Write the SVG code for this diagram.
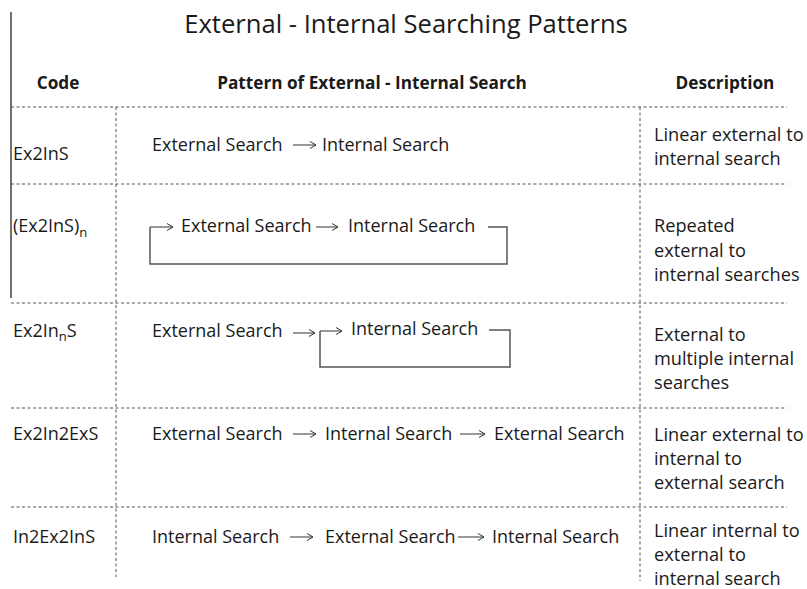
<svg xmlns="http://www.w3.org/2000/svg" width="807" height="589" viewBox="0 0 807 589">
<defs>
<style>
text{font-family:"Open Sans",Lato,"Liberation Sans",sans-serif;fill:#1a1a1a}
.t{font-size:25.6px}
.h{font-size:17.2px;font-weight:bold}
.b{font-size:18px}
.d{font-size:18.2px}
.dash{stroke:#555;stroke-width:1;stroke-dasharray:3 2.5;fill:none}
.solid{stroke:#222;stroke-width:1.3;fill:none}
.arr{stroke:#333;stroke-width:1;fill:none;marker-end:url(#ah)}
.loop{stroke:#555;stroke-width:1.5;fill:none}
</style>
<marker id="ah" viewBox="0 0 10 10" refX="9" refY="5" markerWidth="10" markerHeight="10" markerUnits="userSpaceOnUse" orient="auto">
<path d="M3,1.5 L9,5 L3,8.5" fill="none" stroke="#333" stroke-width="1"/>
</marker>
</defs>
<g id="grid">
<line class="solid" x1="11" y1="12" x2="11" y2="298"/>
<line class="dash" x1="11" y1="107" x2="787" y2="107"/>
<line class="dash" x1="11" y1="184" x2="787" y2="184"/>
<line class="dash" x1="11" y1="303" x2="787" y2="303"/>
<line class="dash" x1="11" y1="408" x2="787" y2="408"/>
<line class="dash" x1="11" y1="507" x2="787" y2="507"/>
<line class="dash" x1="116" y1="107" x2="116" y2="577"/>
<line class="dash" x1="640" y1="107" x2="640" y2="581"/>
</g>
<g id="title"><text class="t" x="406" y="33" text-anchor="middle">External - Internal Searching Patterns</text></g>
<g id="header">
<text class="h" x="58" y="89" text-anchor="middle">Code</text>
<text class="h" x="372" y="89" text-anchor="middle">Pattern of External - Internal Search</text>
<text class="h" x="725" y="89" text-anchor="middle">Description</text>
</g>
<g id="row1">
<text class="b" x="13" y="160">Ex2InS</text>
<text class="b" x="152" y="151">External Search</text>
<text class="b" x="322" y="151">Internal Search</text>
<text class="d" x="654" y="141">Linear external to</text>
<text class="d" x="654" y="165">internal search</text>
</g>
<g id="row2">
<text class="b" x="13" y="232">(Ex2InS)<tspan font-size="13" dy="5">n</tspan></text>
<text class="b" x="181" y="232">External Search</text>
<text class="b" x="348" y="232">Internal Search</text>
<text class="d" x="654" y="232">Repeated</text>
<text class="d" x="654" y="257">external to</text>
<text class="d" x="654" y="281">internal searches</text>
</g>
<g id="row3">
<text class="b" x="13" y="337">Ex2In<tspan font-size="13" dy="4">n</tspan><tspan dy="-4">S</tspan></text>
<text class="b" x="152" y="337">External Search</text>
<text class="b" x="351" y="335">Internal Search</text>
<text class="d" x="654" y="341">External to</text>
<text class="d" x="654" y="365">multiple internal</text>
<text class="d" x="654" y="389">searches</text>
</g>
<g id="row4">
<text class="b" x="13" y="440">Ex2In2ExS</text>
<text class="b" x="152" y="440">External Search</text>
<text class="b" x="325" y="440">Internal Search</text>
<text class="b" x="494" y="440">External Search</text>
<text class="d" x="654" y="441">Linear external to</text>
<text class="d" x="654" y="465">internal to</text>
<text class="d" x="654" y="489">external search</text>
</g>
<g id="row5">
<text class="b" x="13" y="543">In2Ex2InS</text>
<text class="b" x="152" y="543">Internal Search</text>
<text class="b" x="325" y="543">External Search</text>
<text class="b" x="492" y="543">Internal Search</text>
<text class="d" x="654" y="537">Linear internal to</text>
<text class="d" x="654" y="561">external to</text>
<text class="d" x="654" y="585">internal search</text>
</g>
<g id="connectors">
<line class="arr" x1="293" y1="145" x2="316" y2="145"/>
<path class="loop" d="M488,227 H507 V264 H150 V227"/>
<line class="arr" x1="150" y1="227" x2="173" y2="227"/>
<line class="arr" x1="316" y1="227" x2="338" y2="227"/>
<line class="arr" x1="293" y1="333" x2="315" y2="333"/>
<path class="loop" d="M489,330 H510 V367 H320 V331"/>
<line class="arr" x1="320" y1="331" x2="342" y2="331"/>
<line class="arr" x1="293" y1="434" x2="316" y2="434"/>
<line class="arr" x1="460" y1="434" x2="485" y2="434"/>
<line class="arr" x1="458" y1="537" x2="484" y2="537"/>
<line class="arr" x1="290" y1="537" x2="313" y2="537"/>
</g>
</svg>
